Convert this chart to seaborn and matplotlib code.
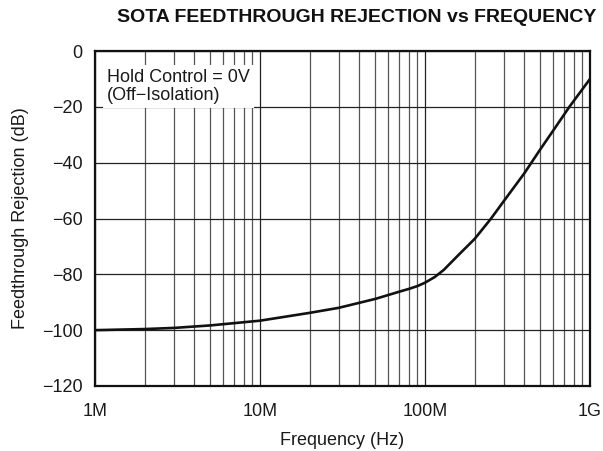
import numpy as np
import pandas as pd
import matplotlib
matplotlib.use("Agg")
import matplotlib.pyplot as plt
from matplotlib.ticker import FixedLocator, NullFormatter
import seaborn as sns

# Feedthrough rejection vs frequency (Hold Control = 0V)
freq_hz = [1e6, 2e6, 3e6, 5e6, 10e6, 20e6, 30e6, 50e6, 70e6, 80e6, 90e6,
           100e6, 115e6, 130e6, 160e6, 200e6, 250e6, 300e6, 400e6, 500e6,
           600e6, 750e6, 1e9]
rejection_db = [-100.0, -99.6, -99.2, -98.3, -96.6, -93.8, -92.0, -88.8,
                -86.2, -85.2, -84.2, -83.0, -80.9, -78.4, -73.0, -67.3,
                -60.2, -53.8, -43.8, -35.2, -28.4, -20.0, -10.0]

x_ticks = [1e6, 1e7, 1e8, 1e9]
x_tick_labels = ["1M", "10M", "100M", "1G"]
y_ticks = [0, -20, -40, -60, -80, -100, -120]
y_tick_labels = ["0", "\u221220", "\u221240", "\u221260", "\u221280", "\u2212100", "\u2212120"]

sns.set_theme(style="white")
plt.rcParams["font.family"] = ["Liberation Sans", "DejaVu Sans"]

fig = plt.figure(figsize=(6.03, 4.51), dpi=100)
ax = fig.add_axes([95 / 603, 1 - 386 / 451, (590 - 95) / 603, (386 - 51) / 451])

df = pd.DataFrame({"freq": freq_hz, "db": rejection_db})
sns.lineplot(data=df, x="freq", y="db", ax=ax, color="#111111", linewidth=1.9,
             zorder=5)

ax.set_xscale("log")
ax.set_xlim(1e6, 1e9)
ax.set_ylim(-120, 0)

minor = [m * 10 ** e for e in range(6, 9) for m in range(2, 10)]
ax.xaxis.set_major_locator(FixedLocator(x_ticks))
ax.xaxis.set_minor_locator(FixedLocator(minor))
ax.xaxis.set_minor_formatter(NullFormatter())
ax.set_xticks(x_ticks)
ax.set_xticklabels(x_tick_labels)
ax.set_yticks(y_ticks)
ax.set_yticklabels(y_tick_labels)

ax.grid(which="major", axis="both", color="#222222", linewidth=0.9)
ax.grid(which="minor", axis="x", color="#555555", linewidth=0.9)
ax.set_axisbelow(True)

ax.tick_params(axis="both", which="both", length=0, labelsize=13,
               colors="#1a1a1a")
ax.tick_params(axis="x", pad=12)
ax.tick_params(axis="y", pad=9)
for s in ax.spines.values():
    s.set_color("#111111")
    s.set_linewidth(1.6)

ax.set_xlabel("Frequency (Hz)", fontsize=13, color="#1a1a1a", labelpad=9)
ax.set_ylabel("Feedthrough Rejection (dB)", fontsize=13, color="#1a1a1a",
              labelpad=9)

ax.text(0.024, 0.945, "Hold Control = 0V\n(Off\u2212Isolation)",
        transform=ax.transAxes, ha="left", va="top", fontsize=13,
        color="#1a1a1a", linespacing=1.05, zorder=6,
        bbox=dict(facecolor="white", edgecolor="none", pad=3))

fig.text(357 / 603, 1 - 18 / 451, "SOTA FEEDTHROUGH REJECTION vs FREQUENCY",
         ha="center", va="center", fontsize=14, fontweight="bold",
         color="#111111")

fig.savefig("out.png", dpi=100, facecolor="white")
